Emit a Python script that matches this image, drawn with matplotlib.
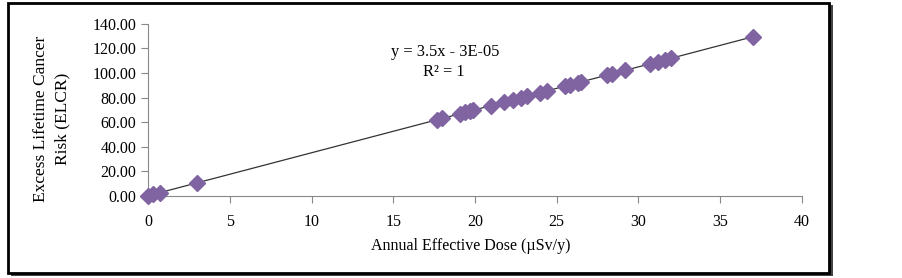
import numpy as np
import matplotlib.pyplot as plt
from matplotlib.patches import Rectangle

plt.rcParams['font.family'] = ['Liberation Serif', 'DejaVu Serif']

dose = [0.0, 0.3, 0.75, 3.0, 17.7, 18.0, 19.1, 19.4, 19.7, 19.9, 21.0, 21.8,
        22.3, 22.8, 23.2, 24.0, 24.4, 25.5, 25.8, 26.3, 26.5, 28.1, 28.4,
        29.2, 30.7, 31.2, 31.6, 32.0, 37.0]
elcr = [0.0, 1.05, 2.6, 10.5, 61.95, 63.0, 66.85, 67.9, 68.95, 69.65, 73.5,
        76.3, 78.05, 79.8, 81.2, 84.0, 85.4, 89.25, 90.3, 92.05, 92.75, 98.35,
        99.4, 102.2, 107.45, 109.2, 110.6, 112.0, 129.5]
yticks = [0, 20, 40, 60, 80, 100, 120, 140]
xticks = [0, 5, 10, 15, 20, 25, 30, 35, 40]
ylabel_lines = ['Excess Lifetime Cancer', 'Risk (ELCR)']

fig = plt.figure(figsize=(9.03, 2.78), dpi=100)
ax = fig.add_axes([0.164, 0.296, 0.724, 0.618])

# outer frame with shadow
fig.patches.append(Rectangle((11/903, 1 - 276/278), 822/903, 271/278,
                             transform=fig.transFigure, fc='#444444', ec='none', zorder=-3))
fig.patches.append(Rectangle((8/903, 1 - 273/278), 821/903, 270/278,
                             transform=fig.transFigure, fc='white', ec='black', lw=2, zorder=-2))

# trend line
p = np.polyfit(dose, elcr, 1)
xs = np.array([min(dose), max(dose)])
ax.plot(xs, np.polyval(p, xs), color='#333333', lw=0.9, zorder=2)
ax.plot(dose, elcr, 'D', color='#8064A2', ms=8.5, mec='#8064A2', zorder=3, clip_on=False)

ax.set_xlim(0, 40)
ax.set_ylim(0, 140)
ax.set_xticks(xticks)
ax.set_yticks(yticks)
ax.set_yticklabels(['%.2f' % v for v in yticks])
ax.tick_params(direction='out', color='#888888', length=5, labelsize=11.5)
ax.tick_params(axis='x', pad=8)
for s in ['top', 'right']:
    ax.spines[s].set_visible(False)
for s in ['left', 'bottom']:
    ax.spines[s].set_color('#888888')
ax.patch.set_alpha(0)

ax.text(18.2, 117.2, 'y = 3.5x - 3E-05', ha='center', va='center', fontsize=11.8)
ax.text(18.1, 101, 'R² = 1', ha='center', va='center', fontsize=11.8)

ax.set_xlabel('Annual Effective Dose (µSv/y)', fontsize=11.5)
ax.xaxis.set_label_coords(0.494, -0.245)

# two-line y title, each line centred
fig.text(41/903, 1 - 119/278, ylabel_lines[0], rotation=90, ha='center', va='center', fontsize=12.5)
fig.text(62/903, 1 - 119/278, ylabel_lines[1], rotation=90, ha='center', va='center', fontsize=12.5)

fig.savefig('out.png', dpi=100)
